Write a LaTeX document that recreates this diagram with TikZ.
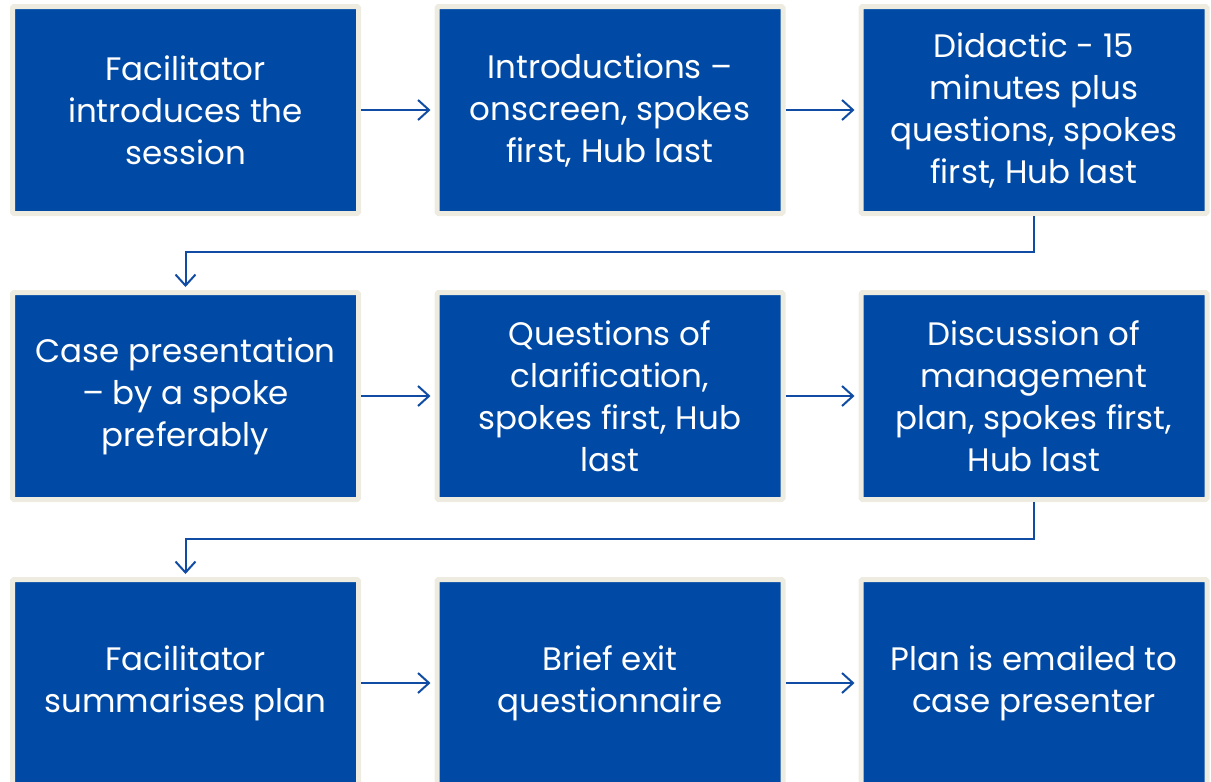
\documentclass[tikz,border=0pt]{standalone}
\usepackage{fontspec}
\setmainfont{Poppins}
\usetikzlibrary{arrows.meta}
\definecolor{boxblue}{RGB}{0,74,166}
\definecolor{rimbeige}{RGB}{238,236,225}
\definecolor{linkblue}{RGB}{16,76,164}
\tikzset{
  stepbox/.style={rectangle, draw=rimbeige, fill=boxblue, line width=5pt,
    rounded corners=1.5pt, minimum width=346pt, minimum height=207pt,
    inner sep=0pt, text=white, align=center,
    font=\fontsize{32.5}{42}\selectfont},
  link/.style={draw=linkblue, line width=2pt,
    -{Straight Barb[length=11pt,width=20pt,line width=2pt]}},
}
\begin{document}
\begin{tikzpicture}[x=1pt,y=-1pt]
\useasboundingbox (0,0) rectangle (1211,782);
\clip (0,0) rectangle (1211,782);
\node[stepbox] (b1) at (185.5,110) {Facilitator\\introduces the\\session};
\node[stepbox] (b2) at (610,110) {Introductions –\\onscreen, spokes\\first, Hub last};
\node[stepbox] (b3) at (1034,110) {Didactic - 15\\minutes plus\\questions, spokes\\first, Hub last};
\node[stepbox] (b4) at (185.5,396) {Case presentation\\– by a spoke\\preferably};
\node[stepbox] (b5) at (610,396) {Questions of\\clarification,\\spokes first, Hub\\last};
\node[stepbox] (b6) at (1034,396) {Discussion of\\management\\plan, spokes first,\\Hub last};
\node[stepbox] (b7) at (185.5,683) {Facilitator\\summarises plan};
\node[stepbox] (b8) at (610,683) {Brief exit\\questionnaire};
\node[stepbox] (b9) at (1034,683) {Plan is emailed to\\case presenter};
\coordinate (t1) at (1034,252);
\coordinate (t2) at (1034,539);
\draw[link, shorten >=4pt] (b1.east) -- (b2.west);
\draw[link, shorten >=4pt] (b2.east) -- (b3.west);
\draw[link, shorten >=4pt] (b4.east) -- (b5.west);
\draw[link, shorten >=4pt] (b5.east) -- (b6.west);
\draw[link, shorten >=4pt] (b7.east) -- (b8.west);
\draw[link, shorten >=4pt] (b8.east) -- (b9.west);
\draw[link, shorten >=3pt] (b3.south) -- (t1) -| (b4.north);
\draw[link, shorten >=3pt] (b6.south) -- (t2) -| (b7.north);
\end{tikzpicture}
\end{document}
